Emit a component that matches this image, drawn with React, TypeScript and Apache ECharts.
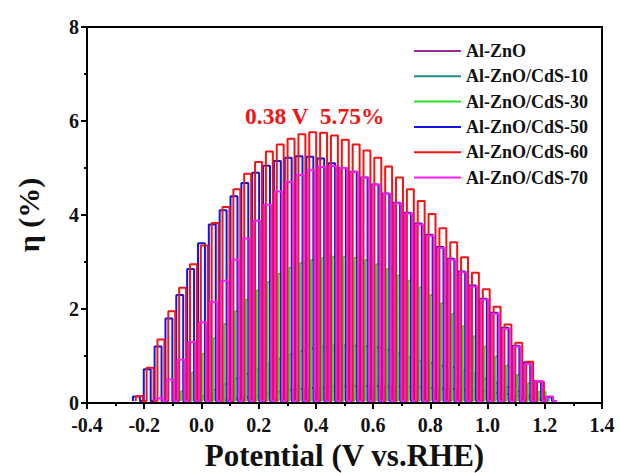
import React, { useEffect, useRef } from "react";
import * as echarts from "echarts";

// ---- data ----
const PERIOD = 0.0379; // chopping period, V
const DUTY = 0.64; // light-on fraction of a period

const seriesNames = [
  "Al-ZnO",
  "Al-ZnO/CdS-10",
  "Al-ZnO/CdS-30",
  "Al-ZnO/CdS-50",
  "Al-ZnO/CdS-60",
  "Al-ZnO/CdS-70",
];
const seriesColors = ["#9A2C9A", "#1F8A8A", "#2BE02B", "#1414DC", "#F21515", "#F020F0"];

// onset potential of the first light pulse of each series
const alZnOStart = 0.0697;
const cds10Start = 0.004;
const cds30Start = -0.0719;
const cds50Start = -0.2395;
const cds60Start = -0.2295;
const cds70Start = -0.1597;

// dark current level of each series
const darkLevels = [0.05, 0.07, 0.05, 0.04, 0.04, 0.04];

// efficiency at the top of each light pulse (%)
const alZnOTops = [0.06, 0.09, 0.12, 0.16, 0.2, 0.24, 0.27, 0.3, 0.32, 0.33, 0.34, 0.35, 0.36, 0.36, 0.36, 0.35, 0.35, 0.34, 0.33, 0.32, 0.31, 0.3, 0.28, 0.26, 0.24, 0.22, 0.19, 0.16, 0.12, 0.08];
const cds10Tops = [0.15, 0.28, 0.4, 0.52, 0.62, 0.73, 0.84, 0.94, 1.03, 1.1, 1.16, 1.2, 1.23, 1.23, 1.22, 1.21, 1.18, 1.12, 1.06, 0.98, 0.9, 0.85, 0.8, 0.76, 0.69, 0.62, 0.52, 0.43, 0.34, 0.25, 0.16, 0.08];
const cds30Tops = [0.25, 0.65, 1.05, 1.38, 1.68, 1.95, 2.2, 2.4, 2.58, 2.75, 2.88, 2.98, 3.04, 3.09, 3.11, 3.11, 3.09, 3.04, 2.95, 2.85, 2.72, 2.6, 2.46, 2.3, 2.12, 1.9, 1.64, 1.42, 1.2, 0.99, 0.8, 0.6, 0.42, 0.24];
const cds50Tops = [0.14, 0.72, 1.2, 1.8, 2.3, 2.85, 3.4, 3.8, 4.1, 4.4, 4.68, 4.9, 5.05, 5.15, 5.22, 5.25, 5.24, 5.2, 5.1, 5.0, 4.92, 4.8, 4.65, 4.46, 4.26, 4.05, 3.82, 3.58, 3.32, 3.07, 2.8, 2.5, 2.22, 1.92, 1.6, 1.22, 0.86, 0.47, 0.12];
const cds60Tops = [0.15, 0.75, 1.35, 1.95, 2.45, 2.95, 3.35, 3.83, 4.17, 4.55, 4.88, 5.13, 5.35, 5.5, 5.62, 5.72, 5.76, 5.75, 5.69, 5.6, 5.5, 5.37, 5.22, 5.03, 4.8, 4.55, 4.3, 4.02, 3.72, 3.42, 3.1, 2.77, 2.42, 2.05, 1.67, 1.28, 0.88, 0.45];
const cds70Tops = [0.1, 0.5, 0.92, 1.3, 1.72, 2.15, 2.6, 3.05, 3.5, 3.88, 4.22, 4.5, 4.7, 4.85, 4.95, 5.02, 5.04, 5.0, 4.92, 4.8, 4.65, 4.45, 4.25, 4.03, 3.8, 3.56, 3.3, 3.05, 2.78, 2.48, 2.2, 1.9, 1.58, 1.2, 0.83, 0.47, 0.14];

const seriesStarts = [alZnOStart, cds10Start, cds30Start, cds50Start, cds60Start, cds70Start];
const seriesTops = [alZnOTops, cds10Tops, cds30Tops, cds50Tops, cds60Tops, cds70Tops];

const xTicks = { min: -0.4, max: 1.4, interval: 0.2 };
const yTicks = { min: 0, max: 8, interval: 2 };

const annotation = "0.38 V  5.75%";

// build the chopped-light square wave from the pulse tops
function chopped(start: number, tops: number[], dark: number): number[][] {
  const pts: number[][] = [];
  tops.forEach((t, i) => {
    const on = start + i * PERIOD;
    const off = on + DUTY * PERIOD;
    pts.push([on, dark], [on, t], [off, t], [off, dark]);
  });
  pts.push([start + tops.length * PERIOD, dark]);
  return pts;
}

const FONT = "'Liberation Serif', 'Times New Roman', serif";

export default function App() {
  const ref = useRef<HTMLDivElement>(null);
  useEffect(() => {
    if (!ref.current) return;
    const chart = echarts.init(ref.current, undefined, { renderer: "svg" });
    const series = seriesNames.map((name, i) => ({
      name,
      type: "line",
      data: chopped(seriesStarts[i], seriesTops[i], darkLevels[i]),
      symbol: "none",
      showSymbol: false,
      lineStyle: { color: seriesColors[i], width: 2 },
      itemStyle: { color: seriesColors[i] },
      emphasis: { disabled: true },
    }));
    const axisCommon = {
      axisLine: { show: true, onZero: false, lineStyle: { color: "#000", width: 2 } },
      axisTick: { show: true, inside: false, length: 6, lineStyle: { color: "#000", width: 2 } },
      minorTick: { show: true, splitNumber: 2, length: 3, lineStyle: { color: "#000", width: 2 } },
      splitLine: { show: false },
    };
    chart.setOption({
      animation: false,
      backgroundColor: "#ffffff",
      grid: {
        left: 87,
        right: 18,
        top: 27,
        bottom: 70,
        show: true,
        borderColor: "#000",
        borderWidth: 2,
        backgroundColor: "transparent",
        outerBoundsMode: "none",
      },
      legend: {
        orient: "vertical",
        left: 409,
        top: 37,
        itemWidth: 47,
        itemHeight: 18,
        itemGap: 7.3,
        icon: "path://M0,8 L47,8 L47,10 L0,10 Z",
        textStyle: { fontFamily: FONT, fontWeight: "bold", fontSize: 18, lineHeight: 18, color: "#111" },
        data: seriesNames.map((n, i) => ({ name: n, itemStyle: { color: seriesColors[i] } })),
      },
      xAxis: {
        type: "value",
        min: xTicks.min,
        max: xTicks.max,
        interval: xTicks.interval,
        name: "Potential (V vs.RHE)",
        nameLocation: "middle",
        nameGap: 37,
        nameTextStyle: { fontFamily: FONT, fontWeight: "bold", fontSize: 31, color: "#111" },
        ...axisCommon,
        axisLabel: {
          margin: 12,
          fontFamily: FONT,
          fontWeight: "bold",
          fontSize: 20,
          color: "#111",
          formatter: (v: number) => (Math.abs(v) < 1e-9 ? "0.0" : v.toFixed(1)),
        },
      },
      yAxis: {
        type: "value",
        min: yTicks.min,
        max: yTicks.max,
        interval: yTicks.interval,
        name: "η (%)",
        nameLocation: "middle",
        nameGap: 44,
        nameTextStyle: { fontFamily: FONT, fontWeight: "bold", fontSize: 30, color: "#111" },
        ...axisCommon,
        axisLabel: {
          margin: 8,
          fontFamily: FONT,
          fontWeight: "bold",
          fontSize: 20,
          color: "#111",
        },
      },
      graphic: [
        {
          type: "text",
          left: 245,
          top: 104,
          style: {
            text: annotation,
            fontFamily: FONT,
            fontWeight: "bold",
            fontSize: 23.5,
            fill: "#F21515",
          },
        },
      ],
      series,
    });
    return () => chart.dispose();
  }, []);
  return (
    <div
      ref={ref}
      style={{ position: "absolute", left: 0, top: 0, width: 620, height: 473 }}
    />
  );
}
